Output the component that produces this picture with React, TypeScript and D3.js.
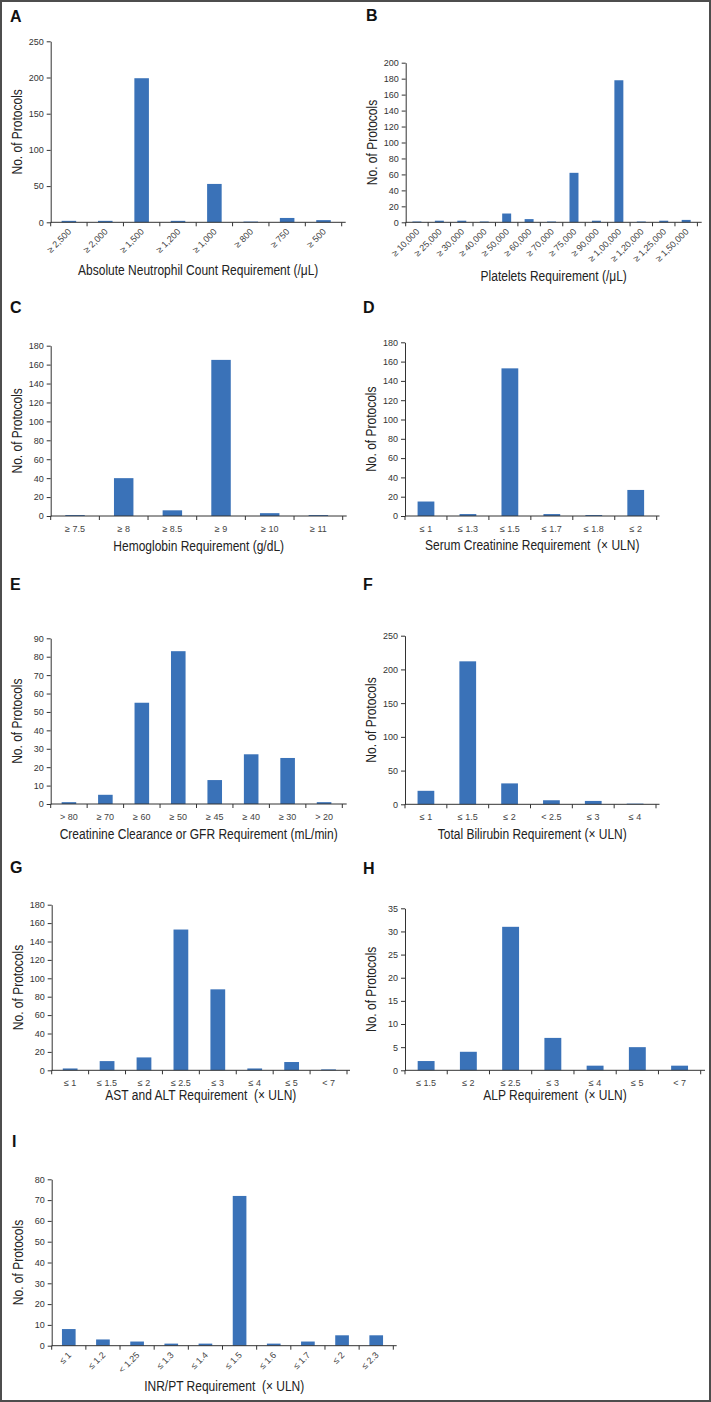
import React, { useRef, useEffect } from "react";
import * as d3 from "d3";

// ---- data ----
const ancLabels = ["≥ 2,500", "≥ 2,000", "≥ 1,500", "≥ 1,200", "≥ 1,000", "≥ 800", "≥ 750", "≥ 500"];
const ancCounts = [2, 2, 199, 2, 53, 1, 6, 3];

const pltLabels = ["≥ 10,000", "≥ 25,000", "≥ 30,000", "≥ 40,000", "≥ 50,000", "≥ 60,000", "≥ 70,000",
  "≥ 75,000", "≥ 90,000", "≥ 1,00,000", "≥ 1,20,000", "≥ 1,25,000", "≥ 1,50,000"];
const pltCounts = [1, 2, 2, 1, 11, 4, 1, 62, 2, 178, 1, 2, 3];

const hgbLabels = ["≥ 7.5", "≥ 8", "≥ 8.5", "≥ 9", "≥ 10", "≥ 11"];
const hgbCounts = [1, 40, 6, 165, 3, 1];

const scrLabels = ["≤ 1", "≤ 1.3", "≤ 1.5", "≤ 1.7", "≤ 1.8", "≤ 2"];
const scrCounts = [15, 2, 153, 2, 1, 27];

const gfrLabels = ["> 80", "≥ 70", "≥ 60", "≥ 50", "≥ 45", "≥ 40", "≥ 30", "> 20"];
const gfrCounts = [1, 5, 55, 83, 13, 27, 25, 1];

const bilLabels = ["≤ 1", "≤ 1.5", "≤ 2", "< 2.5", "≤ 3", "≤ 4"];
const bilCounts = [20, 212, 31, 6, 5, 1];

const astLabels = ["≤ 1", "≤ 1.5", "≤ 2", "≤ 2.5", "≤ 3", "≤ 4", "≤ 5", "< 7"];
const astCounts = [2, 10, 14, 153, 88, 2, 9, 1];

const alpLabels = ["≤ 1.5", "≤ 2", "≤ 2.5", "≤ 3", "≤ 4", "≤ 5", "< 7"];
const alpCounts = [2, 4, 31, 7, 1, 5, 1];

const inrLabels = ["≤ 1", "≤ 1.2", "< 1.25", "≤ 1.3", "≤ 1.4", "≤ 1.5", "≤ 1.6", "≤ 1.7", "≤ 2", "≤ 2.3"];
const inrCounts = [8, 3, 2, 1, 1, 72, 1, 2, 5, 5];

const panels = [
  { letter: "A", title: "Absolute Neutrophil Count Requirement (/μL)", labels: ancLabels, counts: ancCounts, max: 250, step: 50, rotate: true },
  { letter: "B", title: "Platelets Requirement (/μL)", labels: pltLabels, counts: pltCounts, max: 200, step: 20, rotate: true },
  { letter: "C", title: "Hemoglobin Requirement (g/dL)", labels: hgbLabels, counts: hgbCounts, max: 180, step: 20, rotate: false },
  { letter: "D", title: "Serum Creatinine Requirement  (× ULN)", labels: scrLabels, counts: scrCounts, max: 180, step: 20, rotate: false },
  { letter: "E", title: "Creatinine Clearance or GFR Requirement (mL/min)", labels: gfrLabels, counts: gfrCounts, max: 90, step: 10, rotate: false },
  { letter: "F", title: "Total Bilirubin Requirement (× ULN)", labels: bilLabels, counts: bilCounts, max: 250, step: 50, rotate: false },
  { letter: "G", title: "AST and ALT Requirement  (× ULN)", labels: astLabels, counts: astCounts, max: 180, step: 20, rotate: false },
  { letter: "H", title: "ALP Requirement  (× ULN)", labels: alpLabels, counts: alpCounts, max: 35, step: 5, rotate: false },
  { letter: "I", title: "INR/PT Requirement  (× ULN)", labels: inrLabels, counts: inrCounts, max: 80, step: 10, rotate: true },
];

// ---- layout of each panel (pixels) ----
const LAYOUT = {
  A: { x0: 50.7, x1: 341.7, end: 345.7, top: 41.3, base: 222.3, titleY: 275, lx: 10, ly: 22 },
  B: { x0: 405.7, x1: 697.4, end: 701.7, top: 62.7, base: 222.3, titleY: 281, lx: 366, ly: 21 },
  C: { x0: 50.7, x1: 342.7, end: 346.7, top: 345.7, base: 516, titleY: 551, lx: 10, ly: 313 },
  D: { x0: 405, x1: 656.7, end: 659.5, top: 342.3, base: 516, titleY: 550, lx: 363, ly: 313 },
  E: { x0: 50.7, x1: 342.3, end: 346.7, top: 638.3, base: 804, titleY: 839, lx: 10, ly: 590 },
  F: { x0: 405, x1: 656, end: 659.5, top: 635.7, base: 804.3, titleY: 838.7, lx: 363, ly: 590 },
  G: { x0: 51.7, x1: 347, end: 350, top: 904.7, base: 1070.3, titleY: 1100, lx: 10, ly: 873 },
  H: { x0: 405, x1: 700.7, end: 705, top: 908.3, base: 1070.3, titleY: 1100, lx: 363, ly: 874 },
  I: { x0: 51.7, x1: 393.3, end: 396.7, top: 1179.3, base: 1345.7, titleY: 1390.7, lx: 12, ly: 1147 },
};

const W = 711;
const H = 1402;
const BAR = "#3a72b8";
const AXIS = "#333";
const FONT = "'Liberation Sans', Arial, sans-serif";
// the original uses a condensed face; squeeze Liberation Sans horizontally
const SQUEEZE = 0.8;

export default function App() {
  const svgRef = useRef(null);

  useEffect(() => {
    const svg = d3.select(svgRef.current);
    svg.selectAll("*").remove();

    svg.append("rect")
      .attr("x", 1).attr("y", 1)
      .attr("width", W - 2).attr("height", H - 2)
      .attr("fill", "#fff")
      .attr("stroke", "#4d4d4d")
      .attr("stroke-width", 2);

    panels.forEach((p) => {
      const L = LAYOUT[p.letter];
      const g = svg.append("g");
      const x = d3.scaleBand()
        .domain(p.labels)
        .range([L.x0, L.x1])
        .paddingInner(0.6)
        .paddingOuter(0.3);
      const y = d3.scaleLinear().domain([0, p.max]).range([L.base, L.top]);
      const n = p.labels.length;
      const stepW = x.step();

      // panel letter
      g.append("text")
        .attr("x", L.lx).attr("y", L.ly)
        .style("font-family", FONT)
        .style("font-weight", "bold")
        .style("font-size", "16px")
        .style("fill", "#111")
        .text(p.letter);

      // bars
      g.selectAll("rect.bar")
        .data(p.counts)
        .join("rect")
        .attr("class", "bar")
        .attr("x", (d, i) => x(p.labels[i]))
        .attr("y", (d) => y(d))
        .attr("width", x.bandwidth())
        .attr("height", (d) => L.base - y(d))
        .attr("fill", BAR);

      // y axis
      const yAxis = d3.axisLeft(y)
        .tickValues(d3.range(0, p.max + p.step / 2, p.step))
        .tickSize(4)
        .tickSizeOuter(0)
        .tickPadding(3);
      const ya = g.append("g").attr("transform", `translate(${L.x0},0)`).call(yAxis);
      ya.select(".domain").attr("stroke", AXIS);
      ya.selectAll(".tick line").attr("stroke", AXIS);
      ya.selectAll(".tick text")
        .style("font-family", FONT)
        .style("font-size", "9px")
        .attr("fill", "#333");

      // x axis line + ticks at band boundaries
      g.append("line")
        .attr("x1", L.x0).attr("x2", L.end)
        .attr("y1", L.base).attr("y2", L.base)
        .attr("stroke", AXIS);
      g.selectAll("line.xt")
        .data(d3.range(n + 1))
        .join("line")
        .attr("class", "xt")
        .attr("x1", (i) => L.x0 + i * stepW)
        .attr("x2", (i) => L.x0 + i * stepW)
        .attr("y1", L.base)
        .attr("y2", L.base + 4)
        .attr("stroke", AXIS);

      // x tick labels
      g.selectAll("text.xl")
        .data(p.labels)
        .join("text")
        .attr("class", "xl")
        .style("font-family", FONT)
        .style("font-size", "9px")
        .attr("fill", "#444")
        .each(function (d) {
          const cx = x(d) + x.bandwidth() / 2;
          const t = d3.select(this);
          if (p.rotate) {
            t.attr("text-anchor", "end")
              .attr("transform", `translate(${cx + 3},${L.base + 10}) rotate(-45)`)
              .text(d);
          } else {
            t.attr("text-anchor", "middle")
              .attr("x", cx)
              .attr("y", L.base + 15.5)
              .text(d);
          }
        });

      // x title
      g.append("text")
        .attr("transform", `translate(${(L.x0 + L.end) / 2},${L.titleY}) scale(${SQUEEZE},1)`)
        .attr("text-anchor", "middle")
        .style("font-family", FONT)
        .style("font-size", "15px")
        .style("white-space", "pre")
        .attr("fill", "#222")
        .text(p.title);

      // y title
      g.append("text")
        .attr("transform", `translate(${L.x0 - 29},${(L.top + L.base) / 2}) rotate(-90) scale(${SQUEEZE},1)`)
        .attr("text-anchor", "middle")
        .style("font-family", FONT)
        .style("font-size", "15px")
        .attr("fill", "#222")
        .text("No. of Protocols");
    });
  }, []);

  return (
    <svg
      ref={svgRef}
      width={W}
      height={H}
      style={{ position: "absolute", left: 0, top: 0, display: "block" }}
    />
  );
}
